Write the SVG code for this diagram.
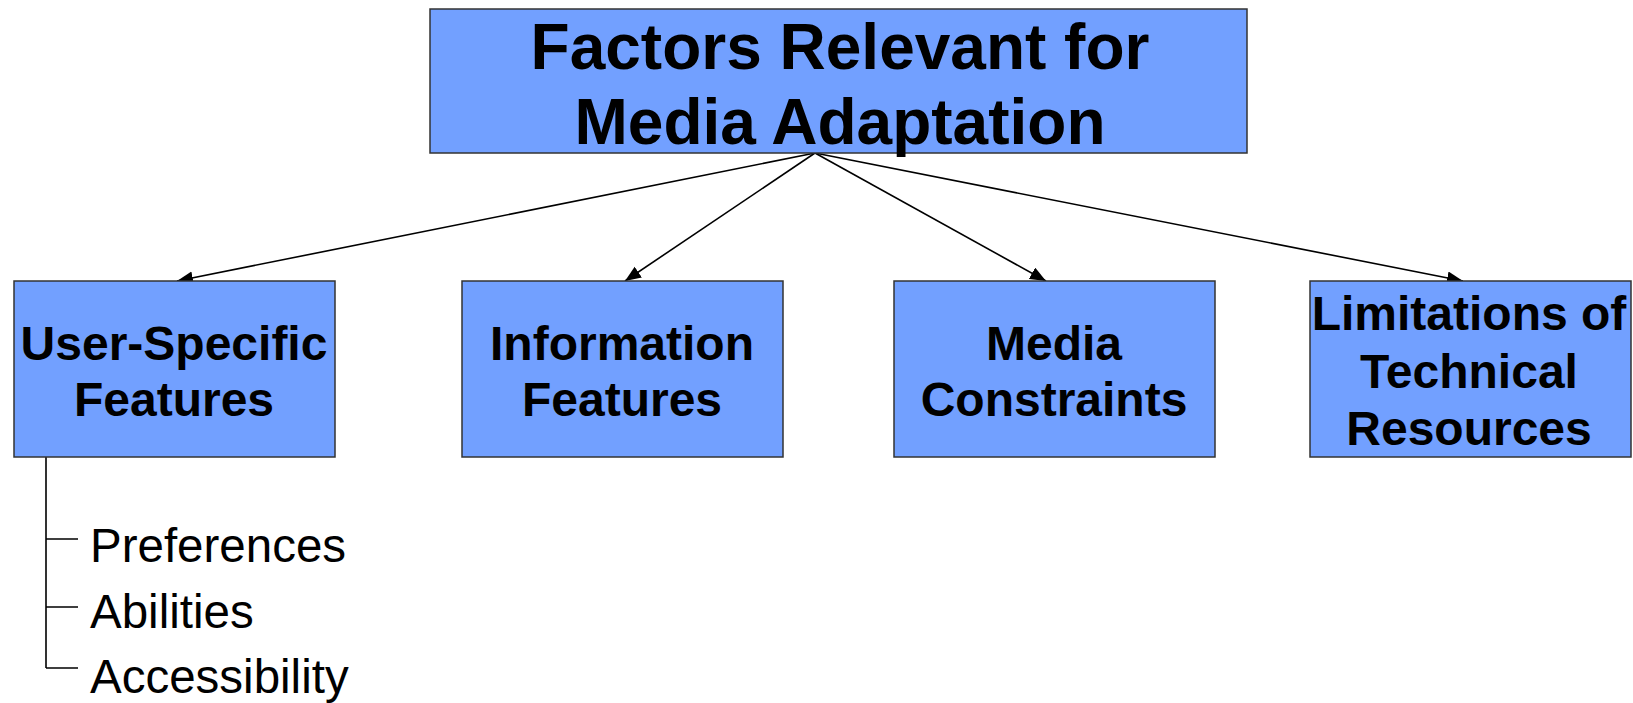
<svg xmlns="http://www.w3.org/2000/svg" width="1633" height="703" viewBox="0 0 1633 703">
<style>
.box{fill:#72A0FF;stroke:#333;stroke-width:1.5}
.t{font-family:"Liberation Sans",Arial,sans-serif;font-weight:bold;fill:#000;text-anchor:middle}
.s{font-family:"Liberation Sans",Arial,sans-serif;font-size:47.5px;fill:#000}
.c{stroke:#000;stroke-width:1.6;fill:none}
</style>
<defs>
<marker id="arr" markerUnits="userSpaceOnUse" markerWidth="18" markerHeight="14" refX="16" refY="6.5" orient="auto">
<path d="M0,0 L16,6.5 L0,13 z" fill="#000"/>
</marker>
</defs>
<rect width="1633" height="703" fill="#fff"/>
<g id="connectors">
<line class="c" x1="815" y1="153" x2="177" y2="281" marker-end="url(#arr)"/>
<line class="c" x1="815" y1="153" x2="625" y2="281" marker-end="url(#arr)"/>
<line class="c" x1="815" y1="153" x2="1046" y2="281" marker-end="url(#arr)"/>
<line class="c" x1="815" y1="153" x2="1463" y2="281" marker-end="url(#arr)"/>
<path class="c" d="M46,457 V668 M46,539 H78 M46,607 H78 M46,668 H78"/>
</g>
<g id="root">
<rect class="box" x="430" y="9" width="817" height="144"/>
<text class="t" font-size="64" x="840" y="69">Factors Relevant for</text>
<text class="t" font-size="64" x="840" y="144">Media Adaptation</text>
</g>
<g id="user">
<rect class="box" x="14" y="281" width="321" height="176"/>
<text class="t" font-size="48" x="174" y="360">User-Specific</text>
<text class="t" font-size="48" x="174" y="416">Features</text>
</g>
<g id="info">
<rect class="box" x="462" y="281" width="321" height="176"/>
<text class="t" font-size="48" x="622" y="360">Information</text>
<text class="t" font-size="48" x="622" y="416">Features</text>
</g>
<g id="media">
<rect class="box" x="894" y="281" width="321" height="176"/>
<text class="t" font-size="48" x="1054" y="360">Media</text>
<text class="t" font-size="48" x="1054" y="416">Constraints</text>
</g>
<g id="limits">
<rect class="box" x="1310" y="281" width="321" height="176"/>
<text class="t" font-size="48" x="1469" y="330">Limitations of</text>
<text class="t" font-size="48" x="1469" y="388">Technical</text>
<text class="t" font-size="48" x="1469" y="445">Resources</text>
</g>
<g id="subitems">
<text class="s" x="90" y="562">Preferences</text>
<text class="s" x="90" y="628">Abilities</text>
<text class="s" x="90" y="693">Accessibility</text>
</g>
</svg>
